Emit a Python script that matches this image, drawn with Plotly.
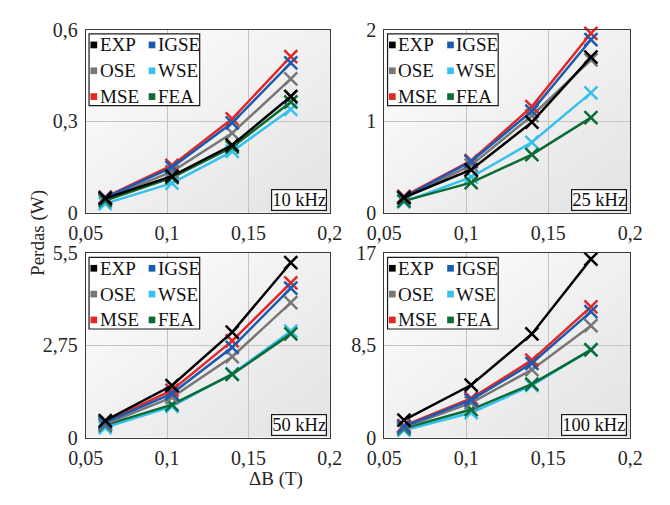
import base64
import plotly.graph_objects as go

# ---------------- data ----------------
delta_b = [0.062, 0.103, 0.140, 0.176]
series_names = ["EXP", "IGSE", "OSE", "WSE", "MSE", "FEA"]
series_colors = ["#000000", "#1a5bb0", "#777777", "#35c0ee", "#e32626", "#0d6b36"]

freq_labels = ["10 kHz", "25 kHz", "50 kHz", "100 kHz"]

loss_10k = {
    "EXP": [0.047, 0.120, 0.222, 0.381],
    "IGSE": [0.050, 0.149, 0.295, 0.491],
    "OSE": [0.046, 0.135, 0.261, 0.439],
    "WSE": [0.030, 0.097, 0.201, 0.339],
    "MSE": [0.051, 0.155, 0.308, 0.512],
    "FEA": [0.040, 0.115, 0.215, 0.363],
}
loss_25k = {
    "EXP": [0.167, 0.47, 0.99, 1.70],
    "IGSE": [0.17, 0.56, 1.11, 1.89],
    "OSE": [0.16, 0.52, 1.06, 1.67],
    "WSE": [0.12, 0.39, 0.77, 1.31],
    "MSE": [0.18, 0.57, 1.16, 1.96],
    "FEA": [0.13, 0.33, 0.635, 1.04],
}
loss_50k = {
    "EXP": [0.505, 1.55, 3.14, 5.21],
    "IGSE": [0.45, 1.31, 2.69, 4.45],
    "OSE": [0.40, 1.20, 2.41, 4.02],
    "WSE": [0.30, 0.93, 1.90, 3.17],
    "MSE": [0.47, 1.41, 2.88, 4.61],
    "FEA": [0.37, 0.98, 1.88, 3.09],
}
loss_100k = {
    "EXP": [1.61, 4.84, 9.54, 16.44],
    "IGSE": [1.00, 3.46, 6.84, 11.6],
    "OSE": [0.95, 3.20, 6.25, 10.3],
    "WSE": [0.68, 2.29, 4.80, 8.10],
    "MSE": [1.10, 3.61, 7.13, 12.04],
    "FEA": [0.85, 2.58, 4.93, 8.08],
}
panel_data = [loss_10k, loss_25k, loss_50k, loss_100k]

x_tickvals = [0.05, 0.1, 0.15, 0.2]
x_ticktext = ["0,05", "0,1", "0,15", "0,2"]
y_ranges = [[0, 0.6], [0, 2], [0, 5.5], [0, 17]]
y_tickvals = [[0, 0.3, 0.6], [0, 1, 2], [0, 2.75, 5.5], [0, 8.5, 17]]
y_ticktext = [["0", "0,3", "0,6"], ["0", "1", "2"], ["0", "2,75", "5,5"], ["0", "8,5", "17"]]

# ---------------- layout geometry ----------------
W, H = 670, 505
FONT = "Liberation Serif"
TXT = "#262626"
# plot areas in pixels: (left, right, top, bottom)
areas = [(71, 327, 19.5, 211), (384, 642, 19.5, 211),
         (71, 327, 253, 446), (384, 642, 253, 446)]


def px(x):
    return x / W


def py(y):
    return 1 - y / H


draw_order = ["WSE", "FEA", "OSE", "MSE", "IGSE", "EXP"]
color_of = dict(zip(series_names, series_colors))

fig = go.Figure()
axis_ids = ["", "2", "3", "4"]

for i, data in enumerate(panel_data):
    xa = "x" + axis_ids[i]
    ya = "y" + axis_ids[i]
    for name in draw_order:
        fig.add_trace(go.Scatter(
            x=delta_b, y=data[name], name=name, mode="lines+markers",
            line=dict(color=color_of[name], width=2.5),
            marker=dict(symbol="x-thin-open", size=13,
                        line=dict(color=color_of[name], width=2.5)),
            xaxis=xa, yaxis=ya, showlegend=False, cliponaxis=False,
        ))

# gradient background image (svg)
svg = ('<svg xmlns="http://www.w3.org/2000/svg" width="100" height="100" preserveAspectRatio="none">'
       '<defs><linearGradient id="g" x1="0" y1="0" x2="1" y2="1">'
       '<stop offset="0" stop-color="#ffffff"/><stop offset="1" stop-color="#e2e2e2"/>'
       '</linearGradient></defs><rect width="100" height="100" fill="url(#g)"/></svg>')
svg_uri = "data:image/svg+xml;base64," + base64.b64encode(svg.encode()).decode()

layout = dict(
    width=W, height=H, margin=dict(l=0, r=0, t=0, b=0),
    paper_bgcolor="white", plot_bgcolor="rgba(0,0,0,0)",
    font=dict(family=FONT, size=20, color=TXT),
    showlegend=False,
)

images = []
shapes = []
annotations = []
for i, (l, r, t, b) in enumerate(areas):
    suffix = axis_ids[i]
    layout["xaxis" + suffix] = dict(
        domain=[px(l), px(r)], range=[0.05, 0.2], anchor="y" + suffix,
        tickvals=x_tickvals, ticktext=x_ticktext, showgrid=True,
        gridcolor="#c4c4c4", gridwidth=1, zeroline=False,
        showline=True, linecolor="#3a3a3a", linewidth=1, mirror=True,
        ticks="outside", ticklen=2, tickcolor="rgba(0,0,0,0)",
        tickfont=dict(family=FONT, size=20, color=TXT),
    )
    layout["yaxis" + suffix] = dict(
        domain=[py(b), py(t)], range=y_ranges[i], anchor="x" + suffix,
        tickvals=y_tickvals[i], ticktext=y_ticktext[i], showgrid=True,
        gridcolor="#c4c4c4", gridwidth=1, zeroline=False,
        showline=True, linecolor="#3a3a3a", linewidth=1, mirror=True,
        ticks="outside", ticklen=3, tickcolor="rgba(0,0,0,0)",
        tickfont=dict(family=FONT, size=20, color=TXT),
    )
    images.append(dict(source=svg_uri, xref="paper", yref="paper",
                       x=px(l), y=py(t), sizex=px(r) - px(l), sizey=py(t) - py(b),
                       sizing="stretch", layer="below", xanchor="left", yanchor="top"))

    # manual legend box
    bw = 116
    shapes.append(dict(type="rect", xref="paper", yref="paper",
                       x0=px(l + 3.5), x1=px(l + 3.5 + bw), y0=py(t + 4.5 + 75), y1=py(t + 4.5),
                       line=dict(color="#1a1a1a", width=1.2), fillcolor="white", layer="above"))
    legend_grid = [["EXP", "IGSE"], ["OSE", "WSE"], ["MSE", "FEA"]]
    for row, pair in enumerate(legend_grid):
        cy = t + 16 + 27 * row
        for col, name in enumerate(pair):
            sx = l + 8.5 + 61 * col
            shapes.append(dict(type="rect", xref="paper", yref="paper",
                               x0=px(sx - 3.5), x1=px(sx + 3.5), y0=py(cy + 3.5), y1=py(cy - 3.5),
                               line=dict(width=0), fillcolor=color_of[name], layer="above"))
            annotations.append(dict(text=name, xref="paper", yref="paper",
                                    x=px(sx + 4), y=py(cy), xanchor="left", yanchor="middle",
                                    showarrow=False,
                                    font=dict(family=FONT, size=19, color="#111111")))
    # frequency label
    annotations.append(dict(text=freq_labels[i], xref="paper", yref="paper",
                            x=px(r - 3), y=py(b - 2), xanchor="right", yanchor="bottom",
                            showarrow=False, bgcolor="white", bordercolor="#1a1a1a",
                            borderwidth=1.2, borderpad=0,
                            font=dict(family=FONT, size=18.5, color="#111111")))

annotations.append(dict(text="Perdas (W)", xref="paper", yref="paper",
                        x=px(21), y=py(232), textangle=-90, showarrow=False,
                        xanchor="center", yanchor="middle",
                        font=dict(family=FONT, size=19, color=TXT)))
annotations.append(dict(text="ΔB (T)", xref="paper", yref="paper",
                        x=px(270), y=py(489), showarrow=False,
                        xanchor="center", yanchor="middle",
                        font=dict(family=FONT, size=19, color=TXT)))

layout["images"] = images
layout["shapes"] = shapes
layout["annotations"] = annotations
fig.update_layout(**layout)

fig.write_html("out.html")
